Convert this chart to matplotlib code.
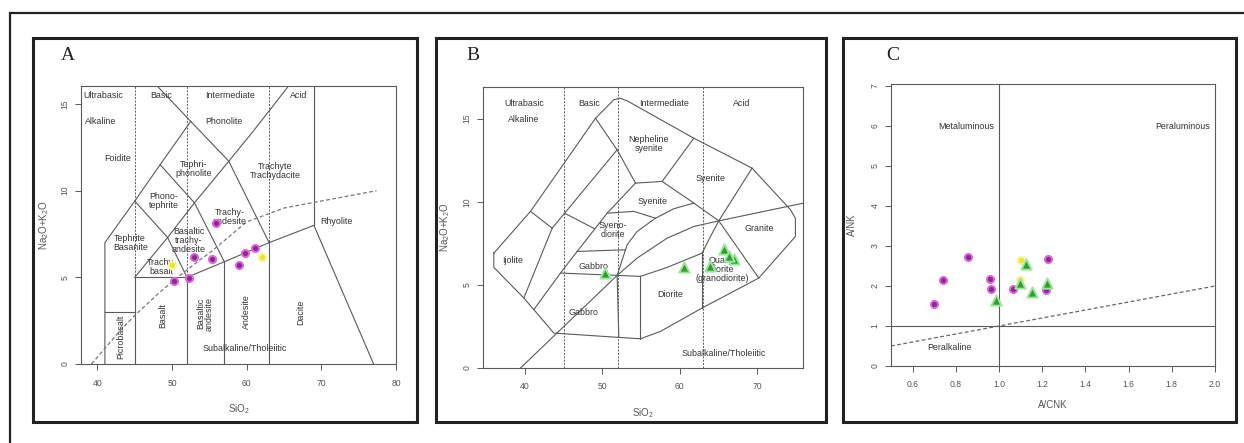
import matplotlib
matplotlib.use('Agg')
import matplotlib.pyplot as plt
from matplotlib.patches import Rectangle

plt.rcParams['font.family'] = ['Liberation Sans', 'DejaVu Sans']
plt.rcParams['mathtext.fontset'] = 'custom'
plt.rcParams['mathtext.rm'] = 'Liberation Sans'
plt.rcParams['mathtext.it'] = 'Liberation Sans'

W, H = 1244, 443
LINE = '#5a5a5a'
TXT = '#333333'

# ---------------- samples ----------------
# A: TAS volcanic
a_mag_x = [55.9, 50.3, 52.3, 52.9, 55.3, 58.9, 59.8, 61.05]
a_mag_y = [8.12, 4.81, 4.96, 6.19, 6.06, 5.71, 6.39, 6.71]
a_yel_x = [49.97, 62.1]
a_yel_y = [5.71, 6.19]

# B: TAS plutonic
b_tri_x = [50.41, 60.52, 63.87, 65.68, 67.05, 66.4]
b_tri_y = [5.71, 6.05, 6.15, 7.17, 6.57, 6.75]

# C: Shand index
c_mag_x = [0.70, 0.74, 0.857, 0.96, 0.965, 1.067, 1.217, 1.228]
c_mag_y = [1.56, 2.15, 2.72, 2.18, 1.92, 1.92, 1.90, 2.67]
c_yel_x = [1.10, 1.097]
c_yel_y = [2.66, 2.15]
c_tri_x = [0.985, 1.126, 1.097, 1.152, 1.222]
c_tri_y = [1.64, 2.55, 2.07, 1.86, 2.07]

# ---------------- field boundaries ----------------
tas_solid = [
    [(41, 0), (41, 7), (45, 9.4), (48.4, 11.5), (52.5, 14)],
    [(48, 16.04), (52.5, 14), (57.6, 11.7), (63, 7)],
    [(41, 3), (45, 3)],
    [(45, 0), (45, 5), (52, 5), (52, 0)],
    [(45, 5), (49.4, 7.3), (52, 5), (57, 5.9), (63, 7), (69, 8), (77, 0)],
    [(57, 0), (57, 5.9)],
    [(63, 0), (63, 7)],
    [(45, 9.4), (49.4, 7.3)],
    [(49.4, 7.3), (53, 9.3), (57.6, 11.7), (61, 13.5), (65.6, 16.04)],
    [(48.4, 11.5), (53, 9.3), (57, 5.9)],
    [(69, 8), (69, 16.04)],
]
ib_x = [39.2, 40, 43.2, 45, 48, 50, 53.7, 55, 60, 65, 77.4]
ib_y = [0, 0.4, 2, 2.8, 4, 4.75, 6, 6.4, 8.2, 9.0, 10.0]

plut_outline = [(36.0, 6.91), (36.0, 6.05), (39.87, 4.21), (41.16, 3.51), (43.74, 2.1),
                (52.13, 1.84), (54.92, 1.76), (57.5, 2.2), (62.88, 3.61), (70.19, 5.41),
                (74.92, 7.91), (74.92, 9.01), (74.28, 9.52), (69.33, 12.02), (61.81, 13.82),
                (53.2, 16.07), (52.26, 16.23), (51.48, 16.13), (49.12, 15.02), (40.73, 9.42),
                (36.0, 6.91)]
plut_solid = [
    [(40.73, 9.42), (43.53, 8.41), (39.87, 4.21)],
    [(43.53, 8.41), (51.91, 13.12)],
    [(49.12, 15.02), (51.91, 13.12), (54.28, 11.12)],
    [(54.28, 11.12), (50.62, 9.31), (46.75, 7.01), (44.6, 5.71), (41.16, 3.51)],
    [(45.12, 9.31), (49.03, 8.37)],
    [(54.28, 11.12), (57.72, 11.22), (61.81, 13.82)],
    [(57.72, 11.22), (61.81, 9.92), (65.03, 8.85)],
    [(69.33, 12.02), (65.03, 8.85)],
    [(50.62, 9.31), (54.06, 9.42), (56.86, 9.01), (59.23, 9.58), (61.81, 9.92)],
    [(56.86, 9.01), (54.49, 8.21), (53.2, 7.41), (52.99, 7.11)],
    [(46.75, 7.01), (52.99, 7.11), (51.91, 5.57)],
    [(44.6, 5.71), (51.91, 5.57), (54.92, 5.51)],
    [(51.91, 5.57), (52.13, 1.84)],
    [(54.92, 5.51), (54.92, 1.76)],
    [(39.44, 0), (51.91, 5.57), (54.49, 6.61), (58.37, 7.81), (61.81, 8.51),
     (65.03, 8.85), (76.0, 9.92)],
    [(54.92, 5.51), (58.37, 6.05), (62.88, 6.91)],
    [(62.88, 6.91), (63.96, 7.91), (65.03, 8.85)],
    [(62.88, 6.91), (62.88, 3.61)],
    [(65.03, 8.85), (70.19, 5.41)],
]


def frame(ax, xlim, ylim, xticks, yticks, xlabel, ylabel, xpad, ypad, tpad, xfmt=None):
    ax.set_xlim(*xlim)
    ax.set_ylim(*ylim)
    ax.set_xticks(xticks)
    ax.set_yticks(yticks)
    if xfmt:
        ax.set_xticklabels([xfmt.format(v) for v in xticks])
    for s in ax.spines.values():
        s.set_color(LINE)
        s.set_linewidth(0.8)
    ax.tick_params(length=4, width=0.7, color=LINE, labelsize=6.2, labelcolor='#555555')
    ax.tick_params(axis='x', pad=tpad)
    ax.tick_params(axis='y', pad=4)
    for lab in ax.get_yticklabels():
        lab.set_rotation(90)
        lab.set_va('center')
    ax.set_xlabel(xlabel, fontsize=7, color='#555555', labelpad=xpad)
    ax.set_ylabel(ylabel, fontsize=7, color='#555555', labelpad=ypad)


def polyline(ax, pts, **kw):
    xs, ys = zip(*pts)
    ax.plot(xs, ys, color=LINE, lw=0.8, **kw)


def label(ax, x, y, s, rot=0, size=6.4):
    ax.text(x, y, s, fontsize=size, color=TXT, ha='center', va='center',
            rotation=rot, linespacing=1.0)


def px_axes(l, r, t, b):
    return fig.add_axes([l / W, 1 - b / H, (r - l) / W, (b - t) / H])


fig = plt.figure(figsize=(W / 100, H / 100), dpi=100)

# outer frame and panel boxes
fig.add_artist(Rectangle((10 / W, -0.05), 1.1, 1 - 13 / H + 0.05, transform=fig.transFigure,
                         fill=False, lw=1.6, ec='#222222'))
for l, r in [(33, 417), (436, 826), (843, 1236)]:
    fig.add_artist(Rectangle((l / W, 1 - 422 / H), (r - l) / W, 384 / H,
                             transform=fig.transFigure, fill=False, lw=2.2, ec='#222222'))
for x, s in [(68, 'A'), (473, 'B'), (893, 'C')]:
    fig.text(x / W, 1 - 56 / H, s, fontsize=14, family='Liberation Serif',
             color='#222222', ha='center', va='center')

# ---- A ----
ax = px_axes(81, 396, 86, 364)
frame(ax, (37.8, 80), (0, 16.04), [40, 50, 60, 70, 80], [0, 5, 10, 15],
      'SiO$_2$', 'Na$_2$O+K$_2$O', xpad=10, ypad=7, tpad=7)
for xv in (45, 52, 63):
    ax.axvline(xv, color=LINE, lw=0.7, ls=(0, (2, 1.5)))
for seg in tas_solid:
    polyline(ax, seg)
ax.plot(ib_x, ib_y, color='#777777', lw=0.9, ls=(0, (3, 2)))
for x, y, s in [(40.8, 15.47, 'Ultrabasic'), (48.6, 15.47, 'Basic'),
                (57.8, 15.47, 'Intermediate'), (67.0, 15.47, 'Acid'),
                (40.4, 13.98, 'Alkaline'), (56.9, 13.98, 'Phonolite'),
                (42.7, 11.87, 'Foidite'), (52.9, 11.25, 'Tephri-\nphonolite'),
                (63.8, 11.14, 'Trachyte\nTrachydacite'), (48.9, 9.42, 'Phono-\ntephrite'),
                (57.7, 8.5, 'Trachy-\nandesite'), (72.0, 8.2, 'Rhyolite'),
                (44.4, 6.96, 'Tephrite\nBasanite'), (52.2, 7.15, 'Basaltic\ntrachy-\nandesite'),
                (48.6, 5.62, 'Trachy-\nbasalt'), (59.8, 0.9, 'Subalkaline/Tholeiitic')]:
    label(ax, x, y, s)
for x, y, s in [(43.1, 1.58, 'Picrobasalt'), (48.7, 2.8, 'Basalt'),
                (54.4, 2.9, 'Basaltic\nandesite'), (60.0, 3.0, 'Andesite'),
                (67.2, 3.0, 'Dacite')]:
    label(ax, x, y, s, rot=90)
ax.scatter(a_mag_x, a_mag_y, s=26, c='#8a2a8a', edgecolors='#e060e0', linewidths=1.4, zorder=5)
ax.scatter(a_yel_x, a_yel_y, s=30, c='#e6e62a', edgecolors='#f6f6a8', linewidths=1.6, zorder=5)

# ---- B ----
ax = px_axes(483, 803, 87, 368)
frame(ax, (34.6, 75.9), (0, 16.9), [40, 50, 60, 70], [0, 5, 10, 15],
      'SiO$_2$', 'Na$_2$O+K$_2$O', xpad=11, ypad=8, tpad=6)
for xv in (45, 52, 63):
    ax.axvline(xv, color=LINE, lw=0.7, ls=(0, (2, 1.5)))
polyline(ax, plut_outline)
for seg in plut_solid:
    polyline(ax, seg)
for x, y, s in [(39.87, 15.93, 'Ultrabasic'), (48.26, 15.93, 'Basic'),
                (57.94, 15.93, 'Intermediate'), (68.04, 15.93, 'Acid'),
                (39.87, 14.96, 'Alkaline'), (56.0, 13.47, 'Nepheline\nsyenite'),
                (63.96, 11.42, 'Syenite'), (56.43, 10.02, 'Syenite'),
                (51.4, 8.27, 'Syeno-\ndiorite'), (70.19, 8.41, 'Granite'),
                (38.37, 6.45, 'Ijolite'), (48.9, 6.11, 'Gabbro'),
                (65.46, 5.91, 'Quartz\ndiorite\n(granodiorite)'), (58.8, 4.41, 'Diorite'),
                (47.6, 3.35, 'Gabbro'), (65.68, 0.9, 'Subalkaline/Tholeiitic')]:
    label(ax, x, y, s)
ax.scatter(b_tri_x, b_tri_y, s=55, marker='^', c='#2e9e2e', edgecolors='#9ce69c',
           linewidths=1.4, zorder=5)

# ---- C ----
ax = px_axes(891, 1215, 84, 366)
cx = [0.6, 0.8, 1.0, 1.2, 1.4, 1.6, 1.8, 2.0]
frame(ax, (0.5, 2.0), (0, 7.05), cx, list(range(8)), 'A/CNK', 'A/NK',
      xpad=8, ypad=10, tpad=6, xfmt='{:.1f}')
ax.axvline(1.0, color=LINE, lw=0.8)
ax.axhline(1.0, color=LINE, lw=0.8)
ax.plot([0.5, 2.0], [0.5, 2.0], color='#666666', lw=0.9, ls=(0, (3, 2)))
label(ax, 0.85, 5.98, 'Metaluminous')
label(ax, 1.85, 5.98, 'Peraluminous')
label(ax, 0.77, 0.47, 'Peralkaline')
ax.scatter(c_mag_x, c_mag_y, s=26, c='#8a2a8a', edgecolors='#e060e0', linewidths=1.4, zorder=5)
ax.scatter(c_yel_x, c_yel_y, s=30, c='#e6e62a', edgecolors='#f6f6a8', linewidths=1.6, zorder=5)
ax.scatter(c_tri_x, c_tri_y, s=55, marker='^', c='#2e9e2e', edgecolors='#9ce69c',
           linewidths=1.4, zorder=6)

fig.savefig('out.png', dpi=100)
